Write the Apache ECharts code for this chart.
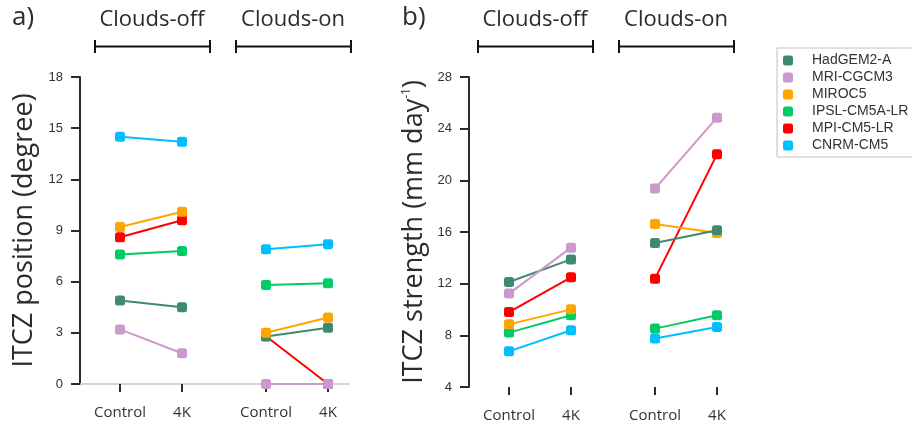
<!DOCTYPE html>
<html>
<head>
<meta charset="utf-8">
<script src="https://cdn.jsdelivr.net/npm/echarts@6/dist/echarts.min.js"></script>
<style>
  html, body { margin: 0; padding: 0; background: #fff; }
  #chart { width: 912px; height: 425px; }
</style>
</head>
<body>
<div id="chart"></div>
<script>
// Models and their colours
const models = ['HadGEM2-A', 'MRI-CGCM3', 'MIROC5', 'IPSL-CM5A-LR', 'MPI-CM5-LR', 'CNRM-CM5'];
const modelColors = ['#3f8a6f', '#cc99cc', '#ffa500', '#00cc66', '#ff0000', '#00bfff'];
const scenarios = ['Control', '4K'];

// ITCZ position (degree), one value per model
const posOffControl = [4.9, 3.2, 9.2, 7.6, 8.6, 14.5];
const posOff4K      = [4.5, 1.8, 10.1, 7.8, 9.6, 14.2];
const posOnControl  = [2.78, 0, 3.0, 5.8, 2.8, 7.9];
const posOn4K       = [3.3, 0, 3.9, 5.9, 0, 8.2];

// ITCZ strength (mm day-1), one value per model
const strOffControl = [12.13, 11.23, 8.85, 8.21, 9.8, 6.76];
const strOff4K      = [13.88, 14.79, 10.01, 9.55, 12.49, 8.39];
const strOnControl  = [15.15, 19.36, 16.62, 8.52, 12.39, 7.75];
const strOn4K       = [16.13, 24.85, 15.92, 9.55, 22.01, 8.64];

// Axis tick values
const posTicks = { min: 0, max: 18, interval: 3 };
const strTicks = { min: 4, max: 28, interval: 4 };

const TICK_FONT = '"Liberation Sans", Arial, sans-serif';
const TEXT_FONT = '"Open Sans", "Noto Sans", sans-serif';
const INK = '#2b2b2b';

const chart = echarts.init(document.getElementById('chart'), null, { renderer: 'canvas' });

// Panel geometry; "order" lists model indices from bottom to top layer
const panels = [
  { axisLeft: 80, top: 77, height: 307, sub: [120, 266], subW: 62, baseW: 269, baseline: true,
    ticks: posTicks, name: 'ITCZ position (degree)', nameGap: 42,
    order: [4, 0, 2, 3, 1, 5],
    groups: [[posOffControl, posOff4K], [posOnControl, posOn4K]] },
  { axisLeft: 469, top: 77, height: 310, sub: [509, 655], subW: 62, baseW: 260, baseline: false,
    ticks: strTicks, name: 'ITCZ strength (mm day{sup|-1})', nameGap: 41,
    order: [4, 3, 2, 0, 1, 5],
    groups: [[strOffControl, strOff4K], [strOnControl, strOn4K]] }
];

const grid = [], xAxis = [], yAxis = [], series = [];

panels.forEach((p) => {
  // frame grid carrying the visible y axis and baseline
  const baseIdx = grid.length;
  grid.push({ left: p.axisLeft, top: p.top, width: p.baseW, height: p.height });
  xAxis.push({
    gridIndex: baseIdx, type: 'value', min: 0, max: 1,
    axisLine: { show: p.baseline, onZero: false, lineStyle: { color: '#c8c8c8', width: 1.5 } },
    axisTick: { show: false }, axisLabel: { show: false }, splitLine: { show: false }
  });
  yAxis.push({
    gridIndex: baseIdx, type: 'value', min: p.ticks.min, max: p.ticks.max, interval: p.ticks.interval,
    axisLine: { show: true, onZero: false, lineStyle: { color: INK, width: 2 } },
    axisTick: { show: true, length: 9, lineStyle: { color: INK, width: 2 } },
    axisLabel: { margin: 17, fontSize: 13, color: '#333', fontFamily: TICK_FONT },
    splitLine: { show: false },
    name: p.name, nameLocation: 'middle', nameGap: p.nameGap, nameRotate: 90,
    nameTextStyle: {
      fontSize: 27, color: INK, fontFamily: TEXT_FONT,
      rich: { sup: { fontSize: 12, color: INK, fontFamily: TEXT_FONT, verticalAlign: 'top', padding: [0, 0, 14, 0] } }
    }
  });

  // one small grid per cloud setting
  p.groups.forEach((g, gi) => {
    const idx = grid.length;
    grid.push({ left: p.sub[gi], top: p.top, width: p.subW, height: p.height });
    xAxis.push({
      gridIndex: idx, type: 'category', data: scenarios, boundaryGap: false,
      axisLine: { show: false },
      axisTick: { show: true, length: 8, lineStyle: { color: INK, width: 2 } },
      axisLabel: { margin: 21, fontSize: 15, color: '#333', fontFamily: TEXT_FONT, interval: 0 },
      splitLine: { show: false }
    });
    yAxis.push({ gridIndex: idx, type: 'value', show: false,
      min: p.ticks.min, max: p.ticks.max, interval: p.ticks.interval, splitLine: { show: false } });

    p.order.forEach((m) => {
      series.push({
        type: 'line', name: models[m], xAxisIndex: idx, yAxisIndex: idx,
        data: [g[0][m], g[1][m]],
        symbol: 'roundRect', symbolSize: 10, showSymbol: true,
        lineStyle: { width: 2, color: modelColors[m] },
        itemStyle: { color: modelColors[m] },
        emphasis: { disabled: true }
      });
    });
  });
});

// Panel letters, group headers and brackets
const headers = [
  { text: 'Clouds-off', cx: 152, x1: 95, x2: 210 },
  { text: 'Clouds-on', cx: 293, x1: 236, x2: 351 },
  { text: 'Clouds-off', cx: 535, x1: 478, x2: 593 },
  { text: 'Clouds-on', cx: 676, x1: 619, x2: 734 }
];
const graphic = [
  { type: 'text', x: 12, y: 18, style: { text: 'a)', fill: INK, font: '26px ' + TEXT_FONT, textVerticalAlign: 'middle' } },
  { type: 'text', x: 402, y: 18, style: { text: 'b)', fill: INK, font: '26px ' + TEXT_FONT, textVerticalAlign: 'middle' } }
];
headers.forEach((h) => {
  graphic.push({ type: 'text', x: h.cx, y: 20,
    style: { text: h.text, fill: INK, font: '22px ' + TEXT_FONT, textAlign: 'center', textVerticalAlign: 'middle' } });
  graphic.push({ type: 'line', shape: { x1: h.x1, y1: 46.5, x2: h.x2, y2: 46.5 }, style: { stroke: '#111', lineWidth: 2 } });
  graphic.push({ type: 'line', shape: { x1: h.x1, y1: 40, x2: h.x1, y2: 53 }, style: { stroke: '#111', lineWidth: 2 } });
  graphic.push({ type: 'line', shape: { x1: h.x2, y1: 40, x2: h.x2, y2: 53 }, style: { stroke: '#111', lineWidth: 2 } });
});

chart.setOption({
  animation: false,
  backgroundColor: '#fff',
  grid, xAxis, yAxis, series, graphic,
  legend: {
    data: models, orient: 'vertical', left: 777, top: 48,
    icon: 'roundRect', itemWidth: 10, itemHeight: 10, itemGap: 0,
    padding: [4, 10, 3, 6],
    borderColor: '#c0c0c0', borderWidth: 1,
    selectedMode: false,
    textStyle: { fontSize: 14, color: '#333', fontFamily: TICK_FONT, lineHeight: 17, padding: [0, 0, 0, 14] }
  }
});
</script>
</body>
</html>
